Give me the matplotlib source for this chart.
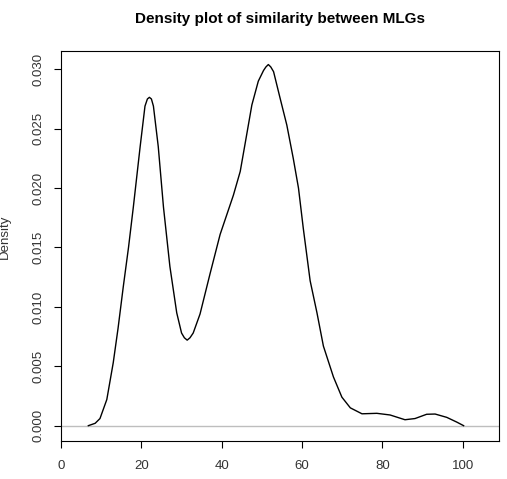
import matplotlib
matplotlib.use("Agg")
import matplotlib.pyplot as plt
import numpy as np

# 相似度取值与对应密度
similarity = [
    6.8, 8.5, 9.7, 11.4, 13.0, 14.2, 15.5, 16.8, 18.0, 19.7, 20.9, 21.5,
    22.0, 22.5, 23.0, 24.2, 25.5, 27.1, 28.8, 30.0, 30.7, 31.4, 32.1, 32.9,
    34.6, 37.1, 39.6, 42.9, 44.6, 45.9, 47.5, 49.1, 50.4, 51.0, 51.6,
    52.2, 52.9, 54.5, 56.2, 57.8, 59.1, 60.3, 62.0, 63.7, 65.3, 67.8, 69.9,
    72.0, 74.9, 78.6, 81.9, 85.6, 88.1, 91.0, 93.1, 96.0, 98.5, 100.2,
]
density = [
    0.0, 0.0002, 0.0006, 0.0022, 0.0053, 0.0082, 0.0117, 0.0150, 0.0184,
    0.0235, 0.0269, 0.0275, 0.02764, 0.0275, 0.0269, 0.0235, 0.0184, 0.0134,
    0.0095, 0.0078, 0.0074, 0.0072, 0.0074, 0.0078, 0.0094, 0.0128,
    0.0161, 0.0194, 0.0214, 0.0239, 0.0270, 0.0290, 0.0299, 0.0302, 0.0304,
    0.0302, 0.0298, 0.0276, 0.0253, 0.0225, 0.0200, 0.0166, 0.0122, 0.0095,
    0.0067, 0.0041, 0.0024, 0.0015, 0.0010, 0.00104, 0.0009, 0.0005, 0.0006,
    0.00096, 0.00098, 0.0007, 0.0003, 0.0,
]
x_ticks = [0, 20, 40, 60, 80, 100]
y_ticks = [0.000, 0.005, 0.010, 0.015, 0.020, 0.025, 0.030]

plt.rcParams["font.family"] = ["Liberation Sans", "DejaVu Sans"]

fig = plt.figure(figsize=(5.07, 4.79), dpi=100)
ax = fig.add_axes([61 / 507, 38 / 479, 438 / 507, 390 / 479])

ax.axhline(0, color="#bebebe", lw=1.0, zorder=1)
ax.plot(similarity, density, color="black", lw=1.0, zorder=2,
        solid_joinstyle="round")

ax.set_xlim(0, 109)
ax.set_ylim(-0.00129, 0.03154)
ax.set_xticks(x_ticks)
ax.set_xticklabels([str(v) for v in x_ticks])
ax.set_yticks(y_ticks)
ax.set_yticklabels([f"{v:.3f}" for v in y_ticks], rotation=90, va="center")

ax.tick_params(axis="both", direction="out", length=5, width=0.8,
               labelsize=9.5, color="black", labelcolor="#333333")
ax.tick_params(axis="x", pad=9)
ax.tick_params(axis="y", pad=7)
for spine in ax.spines.values():
    spine.set_linewidth(0.8)

fig.text(5 / 507, 1 - 237 / 479, "Density", rotation=90, ha="center",
         va="center", fontsize=9.5, color="#333333")
fig.text(280 / 507, 1 - 19 / 479, "Density plot of similarity between MLGs",
         ha="center", va="center", fontsize=11, fontweight="bold")

fig.savefig("out.png", dpi=100)
